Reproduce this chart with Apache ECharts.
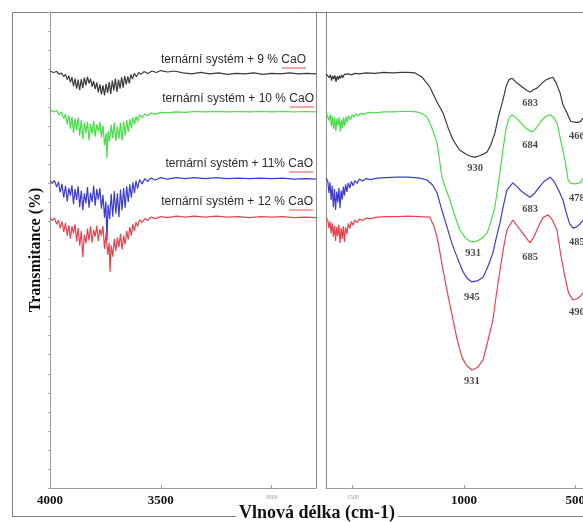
<!DOCTYPE html>
<html><head><meta charset="utf-8">
<script src="https://cdn.jsdelivr.net/npm/echarts@6/dist/echarts.min.js"></script>
<style>html,body{margin:0;padding:0;background:#fff}#c{width:583px;height:522px}</style>
</head><body><div id="c"></div>
<script>
// ---- axis ticks ----
const xTicksLeft = [4000, 3500, 3000];
const xTicksRight = [1500, 1000, 500];
const smallTicks = [3000, 1500];

// ---- series names / labels ----
const seriesNames = ['ternární systém + 9 % CaO', 'ternární systém + 10 % CaO', 'ternární systém + 11% CaO', 'ternární systém + 12 % CaO'];
const seriesColors = ['#3a3a3a', '#48de48', '#3c3cd2', '#e8424e'];

// ---- data: [wavenumber cm-1, transmittance (offset, a.u.)] ----
const blackLeft = [[4000,87.6],[3985,87.3],[3970,87.5],[3958,86.9],[3948,87.2],[3938,86.4],[3930,86.9],[3922,85.8],[3915,86.6],[3908,85.2],[3901,86.3],[3894,84.4],[3887,86.0],[3880,83.9],[3873,85.8],[3866,83.6],[3859,85.9],[3852,84.0],[3845,86.2],[3838,84.6],[3831,86.4],[3824,85.0],[3817,86.0],[3810,84.3],[3803,85.5],[3796,83.8],[3789,85.2],[3782,83.1],[3775,84.8],[3768,82.7],[3761,84.6],[3754,82.5],[3747,84.9],[3740,83.0],[3733,85.3],[3726,82.8],[3719,85.6],[3712,83.5],[3705,86.0],[3698,83.2],[3691,85.8],[3684,83.9],[3677,86.3],[3670,84.1],[3663,86.6],[3656,84.8],[3649,86.5],[3642,85.0],[3635,86.9],[3628,85.9],[3620,87.1],[3610,86.4],[3600,87.3],[3590,86.9],[3575,87.5],[3560,87.1],[3540,87.6],[3520,87.3],[3500,87.7],[3470,87.4],[3440,87.6],[3400,87.2],[3360,87.0],[3320,87.3],[3280,87.0],[3240,87.2],[3200,86.9],[3160,87.1],[3120,87.0],[3080,87.2],[3040,86.9],[3000,87.1],[2960,87.0],[2920,87.2],[2880,87.0],[2840,87.1],[2800,87.0]];
const blackRight = [[1620,87.0],[1612,86.8],[1605,86.2],[1600,86.8],[1595,85.6],[1590,86.6],[1585,85.9],[1580,86.7],[1575,85.3],[1570,86.5],[1565,85.8],[1560,86.6],[1555,86.0],[1550,86.8],[1544,86.2],[1538,86.9],[1530,86.5],[1520,87.0],[1505,86.8],[1490,87.1],[1470,87.0],[1440,87.2],[1400,87.1],[1360,87.3],[1320,87.2],[1280,87.3],[1250,87.3],[1220,87.2],[1190,86.4],[1153,84.2],[1120,81.0],[1094,78.8],[1070,75.5],[1049,73.1],[1020,71.0],[986,70.0],[965,69.6],[950,69.5],[930,69.8],[910,70.2],[896,70.6],[880,72.0],[861,74.6],[845,78.0],[825,81.5],[810,84.5],[797,85.8],[784,86.1],[765,85.2],[748,84.6],[720,83.6],[703,83.2],[690,83.6],[672,84.0],[650,85.0],[630,85.8],[600,86.3],[585,85.0],[568,83.0],[555,80.5],[537,78.8],[520,77.0],[514,76.7],[495,76.8],[478,76.9],[465,77.7]];

const greenLeft = [[4000,79.5],[3985,79.0],[3970,79.3],[3958,78.4],[3948,79.0],[3938,77.6],[3930,78.6],[3922,76.4],[3915,78.3],[3908,75.5],[3901,78.0],[3894,74.6],[3887,77.6],[3880,75.2],[3873,77.8],[3866,74.0],[3859,77.3],[3852,73.3],[3845,76.8],[3838,74.5],[3831,77.0],[3824,73.0],[3817,76.5],[3810,74.4],[3803,77.1],[3796,73.8],[3789,76.4],[3782,74.9],[3775,76.9],[3768,73.6],[3761,76.2],[3754,72.0],[3747,74.5],[3743,69.3],[3738,75.0],[3731,72.8],[3724,76.3],[3717,73.5],[3710,76.8],[3703,72.9],[3696,76.0],[3689,73.4],[3682,76.7],[3675,73.0],[3668,77.0],[3661,74.0],[3654,77.3],[3647,74.8],[3640,77.5],[3633,75.6],[3626,77.9],[3619,76.4],[3612,78.1],[3605,77.0],[3596,78.4],[3585,77.8],[3572,78.6],[3560,78.2],[3545,78.8],[3525,78.5],[3500,78.9],[3470,78.8],[3430,79.0],[3390,78.9],[3350,79.1],[3300,79.0],[3250,79.1],[3200,79.0],[3150,79.1],[3100,79.0],[3050,79.1],[3000,79.0],[2950,79.1],[2900,79.0],[2850,79.1],[2800,79.0]];
const greenRight = [[1620,79.0],[1612,78.6],[1606,77.2],[1601,78.5],[1596,76.0],[1591,78.1],[1586,75.4],[1581,77.8],[1576,75.0],[1571,77.6],[1566,76.1],[1561,77.9],[1556,74.9],[1551,77.4],[1546,75.6],[1541,77.8],[1536,76.0],[1530,78.0],[1524,76.8],[1518,78.2],[1510,77.4],[1502,78.4],[1494,77.9],[1485,78.6],[1475,78.2],[1465,78.7],[1450,78.5],[1430,78.9],[1400,78.8],[1360,79.0],[1320,79.0],[1280,79.1],[1240,79.1],[1210,79.0],[1185,78.6],[1166,77.9],[1145,75.8],[1121,72.5],[1110,69.0],[1099,65.3],[1080,62.6],[1063,60.5],[1040,57.0],[1018,54.2],[995,52.6],[975,51.9],[959,51.7],[940,51.9],[915,52.6],[896,53.6],[880,55.7],[861,59.0],[850,62.5],[838,66.4],[825,71.0],[812,75.2],[797,77.8],[784,78.4],[765,77.7],[748,76.9],[720,75.5],[694,74.8],[675,75.6],[655,77.0],[635,78.0],[613,78.4],[598,77.9],[582,76.7],[565,73.0],[546,68.9],[532,64.7],[520,64.0],[514,63.9],[500,63.9],[478,64.1],[465,65.1]];

const blueLeft = [[4000,64.5],[3990,64.0],[3980,64.6],[3970,63.2],[3962,64.3],[3954,62.1],[3946,63.9],[3938,61.0],[3930,63.5],[3922,60.2],[3915,63.0],[3908,61.4],[3901,63.6],[3894,59.6],[3887,62.8],[3880,60.5],[3873,63.4],[3866,59.0],[3859,62.5],[3852,58.4],[3845,61.9],[3838,59.8],[3831,63.2],[3824,58.9],[3817,62.0],[3810,60.1],[3803,63.5],[3796,59.3],[3789,62.8],[3782,60.6],[3775,63.0],[3768,58.7],[3761,61.6],[3754,56.8],[3748,60.2],[3743,52.1],[3738,59.5],[3731,56.5],[3724,61.8],[3717,57.0],[3710,62.4],[3703,57.6],[3696,61.9],[3689,56.9],[3682,62.7],[3675,58.3],[3668,63.0],[3661,58.9],[3654,63.4],[3647,60.1],[3640,63.8],[3633,61.0],[3626,64.2],[3619,62.0],[3612,64.6],[3605,62.9],[3596,64.8],[3585,63.9],[3572,65.0],[3560,64.4],[3545,65.1],[3525,64.7],[3500,65.2],[3470,64.9],[3430,65.2],[3390,65.0],[3350,65.2],[3300,65.0],[3250,65.2],[3200,65.0],[3150,65.1],[3100,65.0],[3050,65.1],[3000,65.0],[2950,65.1],[2900,64.9],[2850,65.0],[2800,64.9]];
const blueRight = [[1620,65.1],[1612,64.5],[1607,62.0],[1602,64.2],[1597,60.5],[1592,63.5],[1587,59.0],[1582,62.8],[1577,58.4],[1572,62.3],[1567,60.0],[1562,63.0],[1557,58.8],[1552,62.5],[1547,60.6],[1542,63.3],[1537,61.4],[1532,63.8],[1526,62.2],[1520,64.1],[1513,63.0],[1506,64.4],[1498,63.5],[1490,64.6],[1480,64.0],[1470,64.9],[1455,64.5],[1440,65.0],[1420,64.8],[1390,65.1],[1350,65.2],[1300,65.3],[1250,65.3],[1198,65.1],[1166,64.7],[1140,63.6],[1121,62.0],[1100,58.5],[1076,54.8],[1055,51.5],[1031,48.5],[1005,45.5],[985,44.0],[964,43.3],[940,43.5],[914,44.3],[890,46.8],[870,49.4],[855,52.5],[838,55.7],[822,59.5],[807,62.6],[780,64.1],[760,63.2],[740,62.3],[720,61.6],[703,61.1],[685,61.8],[665,63.0],[640,64.4],[613,65.3],[595,64.4],[575,62.6],[555,60.5],[540,57.8],[525,55.5],[510,54.6],[495,54.8],[480,55.4],[465,56.3]];

const redLeft = [[4000,56.8],[3990,56.2],[3980,56.7],[3970,55.4],[3962,56.3],[3954,54.6],[3946,56.0],[3938,53.8],[3930,55.7],[3922,53.0],[3915,55.2],[3908,52.4],[3901,55.0],[3894,53.5],[3887,55.4],[3880,51.8],[3873,54.6],[3866,50.9],[3859,54.0],[3852,48.5],[3845,53.2],[3838,51.4],[3831,54.5],[3824,52.0],[3817,55.0],[3810,51.6],[3803,54.2],[3796,52.8],[3789,55.1],[3782,51.9],[3775,54.4],[3768,53.0],[3761,55.0],[3754,50.2],[3747,53.6],[3740,49.0],[3733,51.5],[3729,45.4],[3724,51.0],[3717,48.6],[3710,52.3],[3703,49.8],[3696,52.6],[3689,50.6],[3682,53.4],[3675,50.1],[3668,53.0],[3661,51.2],[3654,54.0],[3647,52.2],[3640,54.8],[3633,53.0],[3626,55.4],[3619,54.0],[3612,55.9],[3605,54.9],[3596,56.3],[3585,55.8],[3572,56.6],[3560,56.2],[3545,56.9],[3525,56.6],[3500,57.0],[3470,56.8],[3430,57.1],[3390,56.9],[3350,57.1],[3300,56.9],[3250,57.1],[3200,56.9],[3150,57.0],[3100,56.8],[3050,57.0],[3000,56.9],[2950,57.0],[2900,56.8],[2850,56.9],[2800,56.8]];
const redRight = [[1620,56.8],[1612,56.3],[1607,54.6],[1602,56.0],[1597,53.5],[1592,55.6],[1587,52.8],[1582,55.1],[1577,51.9],[1572,54.8],[1567,52.9],[1562,55.3],[1557,51.5],[1552,54.6],[1547,52.4],[1542,55.0],[1537,51.7],[1532,54.8],[1526,53.4],[1520,55.6],[1513,54.5],[1506,56.0],[1498,55.2],[1490,56.3],[1480,55.8],[1470,56.5],[1455,56.2],[1440,56.7],[1420,56.6],[1390,56.9],[1350,57.0],[1300,57.0],[1250,57.1],[1200,57.0],[1153,56.9],[1135,55.0],[1121,52.7],[1108,49.5],[1094,45.8],[1070,40.0],[1049,35.3],[1030,31.0],[1009,27.5],[990,25.8],[964,24.8],[940,25.3],[914,26.9],[892,31.0],[870,35.3],[855,40.5],[838,45.8],[822,50.5],[807,54.2],[780,56.3],[760,55.0],[740,53.8],[720,52.5],[703,51.5],[685,52.8],[665,55.0],[645,56.8],[622,57.4],[605,56.5],[582,54.2],[565,49.0],[546,44.3],[530,41.0],[510,39.5],[490,39.8],[475,40.4],[465,41.0]];

// ---- peak annotations: [text, wavenumber position, transmittance position] ----
const peakLabels = [
  ['683',703,80.9],['930',950,67.2],['466',492,73.9],
  ['684',703,72.1],['931',959,49.4],['478',492,60.9],
  ['683',703,58.6],['945',964,40.1],['485',492,51.7],
  ['685',703,48.5],['931',964,22.5],['490',492,37.0]
];

const leftData = [blackLeft, greenLeft, blueLeft, redLeft];
const rightData = [blackRight, greenRight, blueRight, redRight];

const chart = echarts.init(document.getElementById('c'), null, {renderer: 'canvas'});
const AX = '#9a9a9a';
const serif = '"Liberation Serif", "Times New Roman", serif';

function xAxisCfg(grid, min, max, ticks) {
  return {
    type: 'value', gridIndex: grid, min: min, max: max, inverse: true,
    axisLine: {show: true, onZero: false, lineStyle: {color: AX, width: 1}},
    axisTick: {show: true, inside: true, length: 3, customValues: ticks, lineStyle: {color: AX}},
    splitLine: {show: false},
    axisLabel: {
      show: true, customValues: ticks, margin: 6, hideOverlap: false,
      formatter: v => smallTicks.indexOf(v) >= 0 ? '{s|' + v + '}' : '{b|' + v + '}',
      rich: {
        b: {fontFamily: serif, fontWeight: 'bold', fontSize: 13, color: '#111'},
        s: {fontFamily: serif, fontSize: 6, color: '#999', padding: [0, 0, 6, 0]}
      }
    }
  };
}

const series = [];
seriesNames.forEach((n, i) => {
  series.push({type: 'line', name: n, xAxisIndex: 0, yAxisIndex: 0, data: leftData[i], showSymbol: false, symbol: 'none',
    lineStyle: {color: seriesColors[i], width: 1.2}, itemStyle: {color: seriesColors[i]}, animation: false, silent: true});
  series.push({type: 'line', name: n, xAxisIndex: 1, yAxisIndex: 2, data: rightData[i], showSymbol: false, symbol: 'none',
    lineStyle: {color: seriesColors[i], width: 1.2}, itemStyle: {color: seriesColors[i]}, animation: false, silent: true});
});
series.push({
  type: 'scatter', xAxisIndex: 1, yAxisIndex: 2, symbolSize: 1, silent: true, animation: false,
  itemStyle: {color: 'transparent'},
  data: peakLabels.map(p => ({name: p[0], value: [p[1], p[2]]})),
  label: {show: true, position: 'inside', formatter: '{b}', fontFamily: serif, fontWeight: 'bold', fontSize: 10.5, color: '#1a1a1a'}
});

// legend-like texts placed next to the curves (right-aligned at their end)
const legendPos = [[306, 60], [314, 99], [313, 164], [313, 202]];
const graphics = [{
  type: 'rect', shape: {x: 12.5, y: 12.5, width: 620, height: 504}, silent: true,
  style: {fill: 'none', stroke: '#7a7a7a', lineWidth: 1}, z: 0
}];
seriesNames.forEach((n, i) => {
  graphics.push({type: 'text', x: legendPos[i][0], y: legendPos[i][1], silent: true, z: 10,
    style: {text: n, font: '12px "Liberation Sans", Arial, sans-serif', fill: '#2a2a2a', align: 'right', verticalAlign: 'middle'}});
  graphics.push({type: 'line', silent: true, z: 10,
    shape: {x1: legendPos[i][0] - 24, y1: legendPos[i][1] + 8, x2: legendPos[i][0], y2: legendPos[i][1] + 8},
    style: {stroke: '#e84a4a', lineWidth: 1}});
});

chart.setOption({
  animation: false,
  backgroundColor: '#fff',
  title: {
    text: 'Vlnová délka (cm-1)', left: 236, top: 504, padding: [0, 3],
    backgroundColor: '#fff',
    textStyle: {fontFamily: serif, fontWeight: 'bold', fontSize: 18, color: '#111'}
  },
  grid: [
    {left: 50, top: 12, width: 266, height: 476, containLabel: false, outerBoundsMode: 'none'},
    {left: 326, top: 12, width: 257, height: 476, containLabel: false, outerBoundsMode: 'none'}
  ],
  xAxis: [
    xAxisCfg(0, 2800, 4000, xTicksLeft),
    xAxisCfg(1, 465, 1620, xTicksRight)
  ],
  yAxis: [
    {type: 'value', gridIndex: 0, position: 'left', min: 0, max: 100, interval: 4,
      name: 'Transmitance (%)', nameLocation: 'middle', nameGap: 6,
      nameTextStyle: {fontFamily: serif, fontWeight: 'bold', fontSize: 16, color: '#111'},
      axisLine: {show: true, lineStyle: {color: AX}}, axisTick: {show: true, length: 2, lineStyle: {color: '#aaa'}},
      axisLabel: {show: false}, splitLine: {show: false}},
    {type: 'value', gridIndex: 0, position: 'right', min: 0, max: 100,
      axisLine: {show: true, lineStyle: {color: '#8a8a8a'}}, axisTick: {show: false}, axisLabel: {show: false}, splitLine: {show: false}},
    {type: 'value', gridIndex: 1, position: 'left', min: 0, max: 100,
      axisLine: {show: true, lineStyle: {color: '#8a8a8a'}}, axisTick: {show: false}, axisLabel: {show: false}, splitLine: {show: false}}
  ],
  graphic: graphics,
  series: series
});
</script>
</body></html>
